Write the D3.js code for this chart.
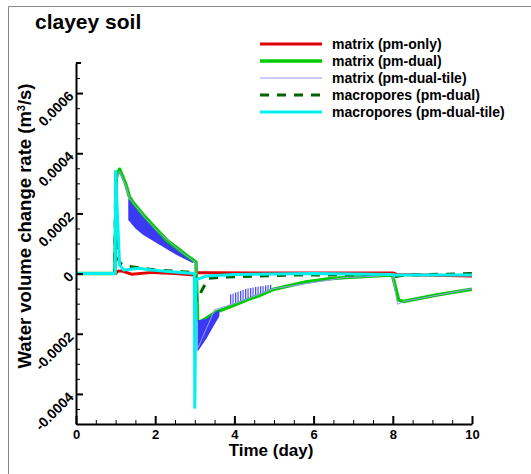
<!DOCTYPE html>
<html>
<head>
<meta charset="utf-8">
<script src="https://cdn.jsdelivr.net/npm/d3@7"></script>
<style>
  body { margin: 0; background: #fff; }
  svg text { font-family: "Liberation Sans", Arial, sans-serif; font-weight: bold; fill: #000; }
  .axis path, .axis line { stroke: #000; }
</style>
</head>
<body>
<div id="chart"></div>
<script>
// afmetingen van de figuur
const width = 531;
const height = 474;
const plot = {left: 76, right: 472, top: 63, bottom: 424};

// x-as: tijd in dagen, y-as: debiet in m3/s
const xDomain = [0, 10];
const yDomain = [-0.0005, 0.0007];
const xTicks = [0, 2, 4, 6, 8, 10];
const yTicks = [-0.0004, -0.0002, 0, 0.0002, 0.0004, 0.0006];

// matrix (pm-only) - rood
const matrixPmOnly = [
  [0, 0], [1.0, 0], [1.05, 0.8e-5], [1.15, 0.9e-5], [1.4, -0.2e-5], [1.95, 0.4e-5],
  [2.5, 0], [3.0, -0.5e-5], [3.05, 0.3e-5], [3.5, 0.3e-5], [5, 0.2e-5], [8.0, 0.2e-5],
  [8.1, -0.3e-5], [10, -0.8e-5]
];

// matrix (pm-dual) - groen
const matrixPmDual = [
  [0, 0], [0.98, 0], [1.02, 3.2e-4], [1.1, 3.47e-4], [1.25, 3.0e-4], [1.35, 2.55e-4],
  [1.45, 2.35e-4], [1.7, 1.95e-4], [2.0, 1.52e-4], [2.3, 1.1e-4], [2.6, 0.8e-4],
  [2.85, 0.55e-4], [3.03, 0.38e-4], [3.07, -1.55e-4], [3.15, -1.6e-4], [3.55, -1.27e-4],
  [3.9, -1.1e-4], [4.3, -0.88e-4], [4.65, -0.72e-4], [5.0, -0.52e-4], [5.8, -0.28e-4],
  [6.4, -0.17e-4], [6.8, -0.13e-4], [7.99, -0.05e-4], [8.15, -0.88e-4], [8.27, -0.93e-4],
  [9.1, -0.71e-4], [10, -0.52e-4]
];

// matrix (pm-dual-tile) - dunne blauwe lijn
const matrixPmDualTile = [
  [0, 0], [0.98, 0], [1.02, 3.1e-4], [1.1, 3.4e-4], [1.25, 2.95e-4], [1.35, 2.5e-4],
  [1.7, 1.92e-4], [2.0, 1.48e-4], [2.6, 0.78e-4], [3.03, 0.36e-4], [3.07, -2.5e-4],
  [3.5, -1.2e-4], [4.0, -1.0e-4], [5.0, -0.5e-4], [6.8, -0.13e-4], [7.99, -0.06e-4],
  [8.12, -1.02e-4], [8.3, -0.92e-4], [10, -0.5e-4]
];

// oscillatie-banden van matrix (pm-dual-tile): [tijd, onder, boven]
const tileBandA = [
  [1.32, 1.78e-4, 2.5e-4], [1.5, 1.5e-4, 2.25e-4], [1.7, 1.28e-4, 1.95e-4],
  [2.12, 0.95e-4, 1.35e-4], [2.54, 0.62e-4, 0.85e-4], [2.96, 0.34e-4, 0.42e-4]
];
const tileBandB = [
  [3.07, -2.6e-4, -1.55e-4], [3.3, -2.15e-4, -1.5e-4], [3.45, -1.8e-4, -1.35e-4],
  [3.62, -1.42e-4, -1.2e-4]
];
const tileBandC = [
  [3.88, -1.06e-4, -0.7e-4], [4.3, -0.86e-4, -0.5e-4], [4.95, -0.53e-4, -0.36e-4]
];

// macropores (pm-dual) - donkergroen gestippeld
const macroPmDual = [
  [0, 0], [0.98, 0], [1.0, 3.3e-4], [1.05, 0.5e-4], [1.15, 0.3e-4], [1.4, 0.23e-4],
  [2.0, 0.12e-4], [2.7, 0.06e-4], [3.0, 0.03e-4], [3.05, -0.9e-4], [3.2, -0.5e-4],
  [3.35, -0.16e-4], [3.7, -0.12e-4], [5.5, -0.05e-4], [8.0, -0.03e-4], [8.05, -0.1e-4],
  [8.3, -0.05e-4], [10, 0]
];

// macropores (pm-dual-tile) - cyaan
const macroPmDualTile = [
  [0, 0], [0.99, 0], [1.0, 3.4e-4], [1.1, 0.3e-4], [1.2, 0.12e-4], [1.6, 0.18e-4],
  [1.9, 0.12e-4], [2.4, 0.06e-4], [2.99, 0], [3.0, -4.45e-4], [3.03, -0.2e-4],
  [3.3, -0.08e-4], [4.0, -0.03e-4], [6, 0], [8, -0.03e-4], [8.05, -0.05e-4], [10, -0.05e-4]
];

// legenda
const legendLabels = ["matrix (pm-only)", "matrix (pm-dual)", "matrix (pm-dual-tile)",
  "macropores (pm-dual)", "macropores (pm-dual-tile)"];
const legendStyles = [
  {color: "#e00000", width: 3, dash: null},
  {color: "#00cc00", width: 3.5, dash: null},
  {color: "#9999ff", width: 1, dash: null},
  {color: "#006400", width: 3, dash: "9,8"},
  {color: "#00f0f0", width: 3, dash: null}
];

var svg = d3.select("#chart")
  .append("svg")
    .attr("width", width)
    .attr("height", height);

// streeppatroon voor de fijne oscillaties
var defs = svg.append("defs");
var pattern = defs.append("pattern")
    .attr("id", "stripes")
    .attr("patternUnits", "userSpaceOnUse")
    .attr("width", 2.5).attr("height", 10);
pattern.append("rect")
    .attr("width", 1.2).attr("height", 10)
    .attr("fill", "#4444f0");

// grijze rand links en boven
svg.append("path")
    .attr("d", "M8.5," + height + " V6.5 H" + width)
    .attr("fill", "none")
    .attr("stroke", "#888")
    .attr("stroke-width", 1);

var xScale = d3.scaleLinear().domain(xDomain).range([plot.left, plot.right]);
var yScale = d3.scaleLinear().domain(yDomain).range([plot.bottom, plot.top]);

defs.append("clipPath")
    .attr("id", "clip")
  .append("rect")
    .attr("x", plot.left).attr("y", plot.top - 2)
    .attr("width", plot.right - plot.left).attr("height", plot.bottom - plot.top + 2);

var line = d3.line()
    .x(function(d) { return xScale(d[0]); })
    .y(function(d) { return yScale(d[1]); });

var band = d3.area()
    .x(function(d) { return xScale(d[0]); })
    .y0(function(d) { return yScale(d[1]); })
    .y1(function(d) { return yScale(d[2]); });

var g = svg.append("g").attr("clip-path", "url(#clip)");

function drawLine(data, style) {
  g.append("path")
      .datum(data)
      .attr("d", line)
      .attr("fill", "none")
      .attr("stroke", style.color)
      .attr("stroke-width", style.width)
      .attr("stroke-dasharray", style.dash)
      .attr("stroke-linejoin", "round");
}

function drawBand(data, fill) {
  g.append("path").datum(data).attr("d", band)
      .attr("fill", fill);
}

drawLine(matrixPmOnly, legendStyles[0]);
drawBand(tileBandA, "#3a3af5");
drawBand(tileBandC, "url(#stripes)");
drawLine(matrixPmDual, legendStyles[1]);
drawBand(tileBandB, "#3a3af5");
drawLine(matrixPmDualTile, legendStyles[2]);
drawLine(macroPmDual, legendStyles[3]);
drawLine(macroPmDualTile, legendStyles[4]);

// minor ticks
var yMinor = d3.range(-0.0005, 0.00071, 0.00005).filter(function(v) {
  return !yTicks.some(function(t) { return Math.abs(t - v) < 1e-9; });
});
var xMinor = d3.range(0, 10.01, 0.5).filter(function(v) { return v % 2 !== 0; });

svg.append("g")
    .attr("class", "axis")
    .attr("transform", "translate(" + plot.left + ",0)")
    .call(d3.axisLeft(yScale).tickValues(yMinor).tickSize(-4).tickFormat(""))
    .call(function(a) { a.select(".domain").remove(); });

svg.append("g")
    .attr("class", "axis")
    .attr("transform", "translate(0," + plot.bottom + ")")
    .call(d3.axisBottom(xScale).tickValues(xMinor).tickSize(-4).tickFormat(""))
    .call(function(a) { a.select(".domain").remove(); });

// y-as met gedraaide labels
var yAxis = svg.append("g")
    .attr("class", "axis")
    .attr("transform", "translate(" + plot.left + ",0)")
    .call(d3.axisLeft(yScale)
      .tickValues(yTicks)
      .tickSizeInner(-7)
      .tickSizeOuter(0)
      .tickFormat(function(d) { return Math.abs(d) < 1e-12 ? "0" : d3.format(".4f")(d).replace("−", "-"); }));

yAxis.select(".domain").attr("stroke-width", 2);
yAxis.selectAll(".tick line").attr("stroke-width", 2);
yAxis.selectAll(".tick text")
    .attr("x", 0)
    .attr("dy", "0.35em")
    .attr("transform", "translate(-5,0) rotate(-45)")
    .style("font-size", "14px");

// x-as
var xAxis = svg.append("g")
    .attr("class", "axis")
    .attr("transform", "translate(0," + plot.bottom + ")")
    .call(d3.axisBottom(xScale)
      .tickValues(xTicks)
      .tickSizeInner(-8)
      .tickSizeOuter(0)
      .tickPadding(6)
      .tickFormat(d3.format("d")));

xAxis.select(".domain").attr("stroke-width", 2);
xAxis.selectAll(".tick line").attr("stroke-width", 2);
xAxis.selectAll(".tick text").style("font-size", "13px");

// top-tick van de y-as
svg.append("line")
    .attr("x1", plot.left).attr("x2", plot.left + 5)
    .attr("y1", yScale(0.0007)).attr("y2", yScale(0.0007))
    .attr("stroke", "#000").attr("stroke-width", 2);

// as-titels
svg.append("text")
    .attr("x", (plot.left + plot.right) / 2 - 3)
    .attr("y", 456)
    .attr("text-anchor", "middle")
    .style("font-size", "17px")
    .text("Time (day)");

var yLabel = svg.append("text")
    .attr("transform", "translate(31,226) rotate(-90)")
    .attr("text-anchor", "middle")
    .style("font-size", "18.5px");
yLabel.append("tspan").text("Water volume change rate (m");
yLabel.append("tspan").attr("baseline-shift", "super").style("font-size", "11px").text("3");
yLabel.append("tspan").text("/s)");

// titel
svg.append("text")
    .attr("x", 35)
    .attr("y", 29)
    .style("font-size", "21px")
    .text("clayey soil");

// legenda
var legend = svg.append("g").attr("class", "legend");
legendLabels.forEach(function(label, i) {
  var y = 44 + i * 17;
  var s = legendStyles[i];
  legend.append("line")
      .attr("x1", 260).attr("x2", 322)
      .attr("y1", y).attr("y2", y)
      .attr("stroke", s.color)
      .attr("stroke-width", s.width)
      .attr("stroke-dasharray", s.dash);
  legend.append("text")
      .attr("x", 332)
      .attr("y", y + 4.5)
      .style("font-size", "14px")
      .text(label);
});
</script>
</body>
</html>
